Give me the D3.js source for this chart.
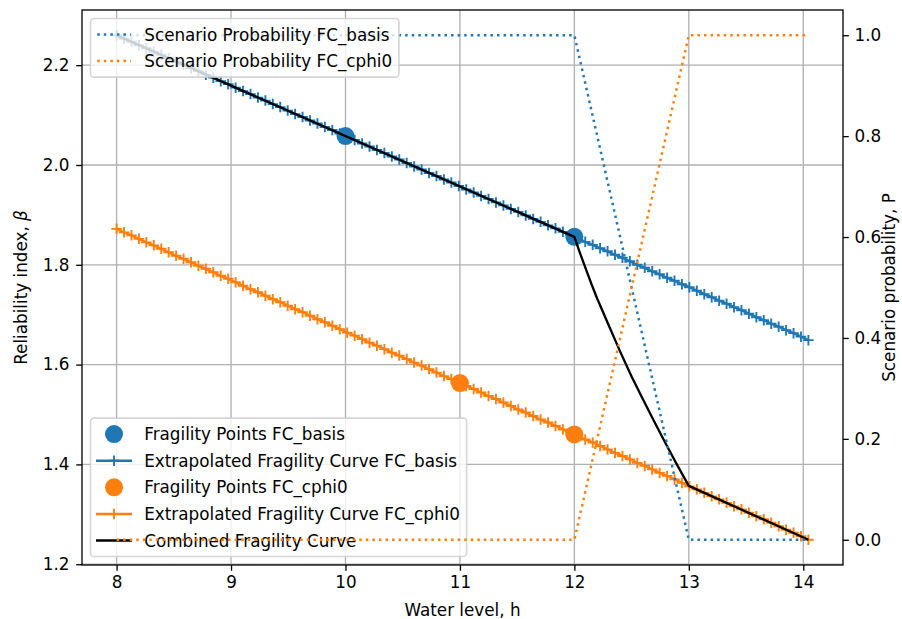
<!DOCTYPE html>
<html>
<head>
<meta charset="utf-8">
<script src="https://cdn.jsdelivr.net/npm/d3@7"></script>
<style>
  html, body { margin: 0; padding: 0; background: #fff; }
  svg { display: block; font-family: "DejaVu Sans", sans-serif; }
</style>
</head>
<body>
<svg id="chart" width="902" height="619"></svg>
<script>
// Water levels at which the extrapolated fragility curves are evaluated
const hGrid = [
  8.000, 8.065, 8.130, 8.195, 8.260, 8.325, 8.390, 8.455, 8.520, 8.585,
  8.650, 8.715, 8.780, 8.845, 8.910, 8.975, 9.040, 9.105, 9.170, 9.235,
  9.300, 9.365, 9.430, 9.495, 9.560, 9.625, 9.690, 9.755, 9.820, 9.885,
  9.950, 10.015, 10.080, 10.145, 10.210, 10.275, 10.340, 10.405, 10.470, 10.535,
  10.600, 10.665, 10.730, 10.795, 10.860, 10.925, 10.990, 11.055, 11.120, 11.185,
  11.250, 11.315, 11.380, 11.445, 11.510, 11.575, 11.640, 11.705, 11.770, 11.835,
  11.900, 11.965, 12.030, 12.095, 12.160, 12.225, 12.290, 12.355, 12.420, 12.485,
  12.550, 12.615, 12.680, 12.745, 12.810, 12.875, 12.940, 13.005, 13.070, 13.135,
  13.200, 13.265, 13.330, 13.395, 13.460, 13.525, 13.590, 13.655, 13.720, 13.785,
  13.850, 13.915, 13.980, 14.045
];

// Extrapolated fragility curve FC_basis (reliability index)
const betaBasis = [
  2.260, 2.253, 2.247, 2.240, 2.234, 2.227, 2.221, 2.214, 2.207, 2.201,
  2.194, 2.188, 2.181, 2.175, 2.168, 2.162, 2.155, 2.148, 2.142, 2.135,
  2.129, 2.122, 2.116, 2.109, 2.102, 2.096, 2.089, 2.083, 2.076, 2.070,
  2.063, 2.057, 2.050, 2.043, 2.037, 2.030, 2.024, 2.017, 2.011, 2.004,
  1.997, 1.991, 1.984, 1.978, 1.971, 1.965, 1.958, 1.951, 1.945, 1.938,
  1.932, 1.925, 1.919, 1.912, 1.906, 1.899, 1.892, 1.886, 1.879, 1.873,
  1.866, 1.860, 1.853, 1.846, 1.840, 1.833, 1.827, 1.820, 1.814, 1.807,
  1.800, 1.794, 1.787, 1.781, 1.774, 1.768, 1.761, 1.755, 1.748, 1.741,
  1.735, 1.728, 1.722, 1.715, 1.709, 1.702, 1.695, 1.689, 1.682, 1.676,
  1.669, 1.663, 1.656, 1.649
];

// Extrapolated fragility curve FC_cphi0 (reliability index)
const betaCphi0 = [
  1.872, 1.865, 1.859, 1.852, 1.845, 1.839, 1.832, 1.825, 1.818, 1.812,
  1.805, 1.798, 1.792, 1.785, 1.778, 1.772, 1.765, 1.758, 1.751, 1.745,
  1.738, 1.731, 1.725, 1.718, 1.711, 1.705, 1.698, 1.691, 1.685, 1.678,
  1.671, 1.664, 1.658, 1.651, 1.644, 1.638, 1.631, 1.624, 1.618, 1.611,
  1.604, 1.598, 1.591, 1.584, 1.577, 1.571, 1.564, 1.557, 1.551, 1.544,
  1.537, 1.531, 1.524, 1.517, 1.510, 1.504, 1.497, 1.490, 1.484, 1.477,
  1.470, 1.464, 1.457, 1.450, 1.444, 1.437, 1.430, 1.423, 1.417, 1.410,
  1.403, 1.397, 1.390, 1.383, 1.377, 1.370, 1.363, 1.356, 1.350, 1.343,
  1.336, 1.330, 1.323, 1.316, 1.310, 1.303, 1.296, 1.290, 1.283, 1.276,
  1.269, 1.263, 1.256, 1.249
];

// Computed fragility points
const hPtsBasis = [10, 12];
const betaPtsBasis = [2.058, 1.856];
const hPtsCphi0 = [11, 12];
const betaPtsCphi0 = [1.563, 1.460];

// Combined fragility curve
const hCombined = [8, 12, 12.05, 12.1, 12.15, 12.2, 12.3, 12.4, 12.5, 12.6, 12.7, 12.8, 12.9, 13, 14.045];
const betaCombined = [2.260, 1.856, 1.823, 1.792, 1.761, 1.732, 1.679, 1.626, 1.576, 1.530, 1.485, 1.441, 1.398, 1.357, 1.249];

// Scenario probabilities
const hProb = [8, 12, 13, 14.045];
const probBasis = [1, 1, 0, 0];
const probCphi0 = [0, 0, 1, 1];

// Axis ticks
const xTicks = [8, 9, 10, 11, 12, 13, 14];
const yTicks = [1.2, 1.4, 1.6, 1.8, 2.0, 2.2];
const pTicks = [0.0, 0.2, 0.4, 0.6, 0.8, 1.0];

const C_BLUE = "#1f77b4", C_ORANGE = "#ff7f0e", C_BLACK = "#000000";
const FS = 16.8;           // font size, px
const PT = 1.65;           // px per point

const svg = d3.select("#chart");
const plot = { left: 82, right: 843, top: 10, bottom: 565 };

function padded(ext, f = 0.05) {
  const span = ext[1] - ext[0];
  return [ext[0] - span * f, ext[1] + span * f];
}

const xScale = d3.scaleLinear()
  .domain(padded(d3.extent([...hGrid, ...hCombined, ...hProb])))
  .range([plot.left, plot.right]);
const yScale = d3.scaleLinear()
  .domain(padded(d3.extent([...betaBasis, ...betaCphi0, ...betaCombined, ...betaPtsBasis, ...betaPtsCphi0])))
  .range([plot.bottom, plot.top]);
const pScale = d3.scaleLinear()
  .domain(padded(d3.extent([...probBasis, ...probCphi0])))
  .range([plot.bottom, plot.top]);

svg.append("defs").append("clipPath").attr("id", "plotclip")
  .append("rect")
  .attr("x", plot.left).attr("y", plot.top)
  .attr("width", plot.right - plot.left).attr("height", plot.bottom - plot.top);

// Grid (primary axes)
const grid = svg.append("g").attr("stroke", "#b0b0b0").attr("stroke-width", 0.8 * PT);
grid.selectAll("line.gx").data(xTicks).join("line")
  .attr("x1", d => xScale(d)).attr("x2", d => xScale(d))
  .attr("y1", plot.top).attr("y2", plot.bottom);
grid.selectAll("line.gy").data(yTicks).join("line")
  .attr("x1", plot.left).attr("x2", plot.right)
  .attr("y1", d => yScale(d)).attr("y2", d => yScale(d));

const plusPath = s => `M${-s / 2},0H${s / 2}M0,${-s / 2}V${s / 2}`;
const PLUS = 10.5, PLUS_W = 1.9;
const lineGen = (xs, ys, ysc) => d3.line().x((d, i) => xScale(xs[i])).y((d, i) => ysc(ys[i]))(xs);

// Primary-axis series
const g1 = svg.append("g").attr("clip-path", "url(#plotclip)");

function drawPoints(xs, ys, color) {
  g1.append("g").selectAll("circle").data(xs).join("circle")
    .attr("cx", d => xScale(d)).attr("cy", (d, i) => yScale(ys[i]))
    .attr("r", 9).attr("fill", color);
}
function drawExtrapolated(xs, ys, color) {
  g1.append("path").attr("d", lineGen(xs, ys, yScale))
    .attr("fill", "none").attr("stroke", color).attr("stroke-width", 1.5 * PT)
    .attr("stroke-linejoin", "round");
  g1.append("g").selectAll("path").data(xs).join("path")
    .attr("transform", (d, i) => `translate(${xScale(d)},${yScale(ys[i])})`)
    .attr("d", plusPath(PLUS))
    .attr("stroke", color).attr("stroke-width", PLUS_W).attr("fill", "none");
}

drawPoints(hPtsBasis, betaPtsBasis, C_BLUE);
drawExtrapolated(hGrid, betaBasis, C_BLUE);
drawPoints(hPtsCphi0, betaPtsCphi0, C_ORANGE);
drawExtrapolated(hGrid, betaCphi0, C_ORANGE);
g1.append("path").attr("d", lineGen(hCombined, betaCombined, yScale))
  .attr("fill", "none").attr("stroke", C_BLACK).attr("stroke-width", 1.4 * PT)
  .attr("stroke-linejoin", "round");

// Legend helper
function drawLegend(parent, entries, x0, anchorY, fromBottom) {
  const g = parent.append("g");
  const rowH = 26.6, padV = 16, padL = 0.4 * FS, handleL = 2 * FS, textPad = 0.8 * FS;
  const h = padV * 2 + rowH * (entries.length - 1);
  const y0 = fromBottom ? anchorY - h : anchorY;
  const frame = g.append("rect");
  let maxW = 0;
  entries.forEach((e, i) => {
    const cy = y0 + padV + i * rowH;
    const hx0 = x0 + padL, hx1 = hx0 + handleL, hc = (hx0 + hx1) / 2;
    if (e.line) {
      const l = g.append("line").attr("x1", hx0).attr("x2", hx1).attr("y1", cy).attr("y2", cy)
        .attr("stroke", e.color).attr("stroke-width", 1.5 * PT);
      if (e.dotted) l.attr("stroke-dasharray", `${1.5 * PT},${1.65 * 1.5 * PT}`);
      else l.attr("stroke-linecap", "square");
    }
    if (e.plus) g.append("path").attr("transform", `translate(${hc},${cy})`).attr("d", plusPath(PLUS))
      .attr("stroke", e.color).attr("stroke-width", PLUS_W);
    if (e.circle) g.append("circle").attr("cx", hc).attr("cy", cy).attr("r", 9).attr("fill", e.color);
    const t = g.append("text").attr("x", hx1 + textPad).attr("y", cy).attr("dy", "0.36em")
      .attr("font-size", FS).attr("fill", "#000").text(e.label);
    maxW = Math.max(maxW, t.node().getComputedTextLength());
  });
  const w = padL + handleL + textPad + maxW + padL;
  frame.attr("x", x0).attr("y", y0).attr("width", w).attr("height", h)
    .attr("rx", 0.2 * FS).attr("ry", 0.2 * FS)
    .attr("fill", "#fff").attr("fill-opacity", 0.8)
    .attr("stroke", "#cccccc").attr("stroke-opacity", 0.8).attr("stroke-width", 1 * PT);
  return g;
}

drawLegend(svg, [
  { label: "Fragility Points FC_basis", color: C_BLUE, circle: true },
  { label: "Extrapolated Fragility Curve FC_basis", color: C_BLUE, line: true, plus: true },
  { label: "Fragility Points FC_cphi0", color: C_ORANGE, circle: true },
  { label: "Extrapolated Fragility Curve FC_cphi0", color: C_ORANGE, line: true, plus: true },
  { label: "Combined Fragility Curve", color: C_BLACK, line: true }
], plot.left + 8.5, plot.bottom - 8.5, true);

// Secondary-axis series (scenario probabilities)
const g2 = svg.append("g").attr("clip-path", "url(#plotclip)");
[[probBasis, C_BLUE], [probCphi0, C_ORANGE]].forEach(([ps, color]) => {
  g2.append("path").attr("d", lineGen(hProb, ps, pScale))
    .attr("fill", "none").attr("stroke", color).attr("stroke-width", 1.5 * PT)
    .attr("stroke-dasharray", `${1.5 * PT},${1.65 * 1.5 * PT}`);
});

drawLegend(svg, [
  { label: "Scenario Probability FC_basis", color: C_BLUE, line: true, dotted: true },
  { label: "Scenario Probability FC_cphi0", color: C_ORANGE, line: true, dotted: true }
], plot.left + 8.5, plot.top + 8.5, false);

// Spines
svg.append("rect")
  .attr("x", plot.left).attr("y", plot.top)
  .attr("width", plot.right - plot.left).attr("height", plot.bottom - plot.top)
  .attr("fill", "none").attr("stroke", "#000").attr("stroke-width", 0.8 * PT);

// Axes
const tickLen = 3.5 * PT, tickPad = 3.5 * PT;
function styleAxis(g) {
  g.select(".domain").remove();
  g.selectAll(".tick line").attr("stroke", "#000").attr("stroke-width", 0.8 * PT);
  g.selectAll(".tick text").attr("fill", "#000").attr("font-size", FS)
    .attr("font-family", "DejaVu Sans, sans-serif");
}
svg.append("g").attr("transform", `translate(0,${plot.bottom})`)
  .call(d3.axisBottom(xScale).tickValues(xTicks).tickFormat(d3.format("d"))
    .tickSize(tickLen).tickPadding(tickPad))
  .call(styleAxis);
svg.append("g").attr("transform", `translate(${plot.left},0)`)
  .call(d3.axisLeft(yScale).tickValues(yTicks).tickFormat(d3.format(".1f"))
    .tickSize(tickLen).tickPadding(tickPad + 1))
  .call(styleAxis);
svg.append("g").attr("transform", `translate(${plot.right},0)`)
  .call(d3.axisRight(pScale).tickValues(pTicks).tickFormat(d3.format(".1f"))
    .tickSize(tickLen).tickPadding(tickPad))
  .call(styleAxis);

// Axis labels
const midY = (plot.top + plot.bottom) / 2;
svg.append("text").attr("x", (plot.left + plot.right) / 2).attr("y", 616)
  .attr("text-anchor", "middle").attr("font-size", FS).text("Water level, h");
const yl = svg.append("text").attr("transform", `translate(26.5,${midY}) rotate(-90)`)
  .attr("text-anchor", "middle").attr("font-size", FS);
yl.append("tspan").text("Reliability index, ");
yl.append("tspan").attr("font-style", "italic").text("β");
svg.append("text").attr("transform", `translate(895,${midY}) rotate(-90)`)
  .attr("text-anchor", "middle").attr("font-size", FS).text("Scenario probability, P");
</script>
</body>
</html>
